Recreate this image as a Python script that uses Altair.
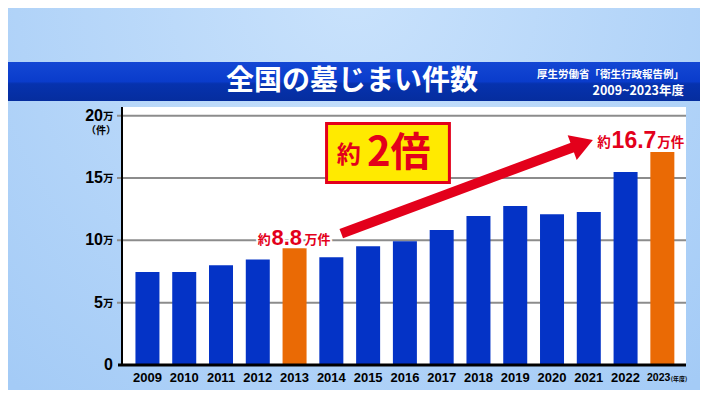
import altair as alt
import pandas as pd

# ---------------- data ----------------
years = list(range(2009, 2024))
values_man = [7.46, 7.46, 8.01, 8.47, 9.36, 8.64, 9.52, 9.92, 10.83, 11.95, 12.75, 12.10, 12.28, 15.49, 17.09]
highlight_years = [2013, 2023]
y_tick_values = [5, 10, 15, 20]
y_tick_labels = ["5", "10", "15", "20"]
year_labels = [str(y) for y in years[:-1]]

title_text = "全国の墓じまい件数"
source_lines = ["厚生労働省「衛生行政報告例」", "2009~2023年度"]

# annotation anchors (data units: year, 万件)
label_2013 = {"yak_x": 2012.35, "num_x": 2012.37, "unit_x": 2013.27, "y": 10.22, "num": "8.8"}
label_2023 = {"yak_x": 2021.6, "num_x": 2021.62, "unit_x": 2022.86, "y": 18.0, "num": "16.7"}
arrow_seg = {"x": 2014.27, "y": 10.54, "x2": 2020.83, "y2": 17.75}
box = {"x": 2013.87, "x2": 2017.21, "y": 19.37, "y2": 14.64}
box_text = {"yak_x": 2014.47, "big_x": 2014.97, "y": 16.9}

# ---------------- style ----------------
W, H = 564, 258
BLUE = "#0433c6"
ORANGE = "#ea6a05"
RED = "#e3001b"
YELLOW = "#ffea00"
GRID = "#8c8c8c"
JP = "Noto Sans CJK JP"
NUM = "Liberation Sans, Arial, sans-serif"

XS = alt.Scale(domain=[2008.444, 2023.507], nice=False, zero=False)
YS = alt.Scale(domain=[0, 20.7], nice=False, zero=False)


def X(f):
    return alt.X(f, type="quantitative", scale=XS, axis=None)


def Y(f):
    return alt.Y(f, type="quantitative", scale=YS, axis=None)


one = pd.DataFrame({"k": [0]})

bg = alt.Chart(one).mark_rect(
    color={"gradient": "radial", "x1": 0.5, "y1": 0.2, "r1": 0, "x2": 0.5, "y2": 0.2, "r2": 0.75,
           "stops": [{"offset": 0, "color": "#c9e2fc"}, {"offset": 1, "color": "#a4cbf6"}]}
).encode(x=alt.value(-114), x2=alt.value(578), y=alt.value(-99), y2=alt.value(283))

panel = alt.Chart(one).mark_rect(color="white").encode(
    x=alt.value(0), x2=alt.value(W), y=alt.value(0), y2=alt.value(H))

band = alt.Chart(one).mark_rect(
    color={"gradient": "linear", "x1": 0, "y1": 0, "x2": 0, "y2": 1,
           "stops": [{"offset": 0, "color": "#1447d4"}, {"offset": 0.5, "color": "#0a3ccb"},
                     {"offset": 0.56, "color": "#0632ae"}, {"offset": 1, "color": "#052d9e"}]}
).encode(x=alt.value(-114), x2=alt.value(578), y=alt.value(-45), y2=alt.value(-6))

title = alt.Chart(one).mark_text(
    text=title_text, font=JP, fontSize=28, fontWeight="bold", color="white", align="left", baseline="middle"
).encode(x=alt.value(104), y=alt.value(-25))

src1 = alt.Chart(one).mark_text(
    text=source_lines[0], font=JP, fontSize=10.5, fontWeight="bold", color="white", align="right", baseline="middle"
).encode(x=alt.value(562), y=alt.value(-32))
src2 = alt.Chart(one).mark_text(
    text=source_lines[1], font=JP, fontSize=12.5, fontWeight="bold", color="white", align="right", baseline="middle"
).encode(x=alt.value(562), y=alt.value(-16))

grid = alt.Chart(pd.DataFrame({"g": y_tick_values})).mark_rule(color=GRID, strokeWidth=2).encode(
    y=Y("g"), x=alt.value(-5), x2=alt.value(W))

bars_df = pd.DataFrame({"year": years, "value": values_man})
bars = alt.Chart(bars_df).mark_bar(size=24, orient="vertical").encode(
    x=X("year"),
    y=alt.Y("value:Q", scale=YS, axis=None, stack=None),
    color=alt.condition(alt.FieldOneOfPredicate(field="year", oneOf=highlight_years),
                        alt.value(ORANGE), alt.value(BLUE)),
)

left_axis = alt.Chart(one).mark_rule(color="black", strokeWidth=2).encode(
    x=alt.value(0), y=alt.value(0), y2=alt.value(H))
bottom_axis = alt.Chart(one).mark_rule(color="black", strokeWidth=3).encode(
    x=alt.value(-4), x2=alt.value(W), y=alt.value(H))

ylab_df = pd.DataFrame({"v": y_tick_values, "t": y_tick_labels})
ylab_num = alt.Chart(ylab_df).mark_text(font=NUM, fontSize=16, fontWeight="bold", color="black",
                                        align="right", baseline="middle").encode(
    x=alt.value(-19), y=Y("v"), text="t:N")
ylab_man = alt.Chart(ylab_df).mark_text(text="万", font=JP, fontSize=10.5, fontWeight="bold", color="black",
                                        align="left", baseline="middle", dy=1).encode(
    x=alt.value(-19), y=Y("v"))
ylab_zero = alt.Chart(pd.DataFrame({"v": [0]})).mark_text(text="0", font=NUM, fontSize=16, fontWeight="bold",
                                                         color="black", align="right", baseline="middle").encode(
    x=alt.value(-9), y=Y("v"))
ylab_unit = alt.Chart(one).mark_text(text="（件）", font=JP, fontSize=10, fontWeight="bold", color="black",
                                     align="center", baseline="middle").encode(x=alt.value(-21), y=alt.value(24))

xlab_df = pd.DataFrame({"year": years[:-1], "t": year_labels})
xlab = alt.Chart(xlab_df).mark_text(font=NUM, fontSize=13, fontWeight="bold", color="black",
                                    align="center", baseline="middle").encode(
    x=X("year"), y=alt.value(H + 13), text="t:N")
last_df = pd.DataFrame({"year": [years[-1]]})
xlab_last = alt.Chart(last_df).mark_text(text=str(years[-1]), font=NUM, fontSize=10.5, fontWeight="bold",
                                         color="black", align="right", baseline="middle", dx=8).encode(
    x=X("year"), y=alt.value(H + 13))
xlab_last2 = alt.Chart(last_df).mark_text(text="(年度)", font=JP, fontSize=6, fontWeight="bold",
                                          color="black", align="left", baseline="middle", dx=8.5, dy=1).encode(
    x=X("year"), y=alt.value(H + 13))

arrow_df = pd.DataFrame([arrow_seg])
arrow_shaft = alt.Chart(arrow_df).mark_rule(color=RED, strokeWidth=10, strokeCap="butt").encode(
    x=X("x"), y=Y("y"), x2="x2:Q", y2="y2:Q")
arrow_head = alt.Chart(arrow_df).mark_point(shape="M-1,-1.2L1,0L-1,1.2Z", filled=True, size=484, angle=340,
                                            color=RED, opacity=1).encode(x=X("x2"), y=Y("y2"))

box_df = pd.DataFrame([box])
box_shadow = alt.Chart(box_df).mark_rect(color="#7a4a20", opacity=0.45, xOffset=3, yOffset=3).encode(
    x=X("x"), x2="x2:Q", y=Y("y"), y2="y2:Q")
box_rect = alt.Chart(box_df).mark_rect(color=YELLOW, stroke=RED, strokeWidth=3).encode(
    x=X("x"), x2="x2:Q", y=Y("y"), y2="y2:Q")
bt_df = pd.DataFrame([box_text])
box_yak = alt.Chart(bt_df).mark_text(text="約", font=JP, fontSize=24, fontWeight="bold", color=RED,
                                     align="center", baseline="middle", dy=2).encode(x=X("yak_x"), y=Y("y"))
box_big = alt.Chart(bt_df).mark_text(text="2倍", font=JP, fontSize=40, fontWeight="bold", color=RED,
                                     align="left", baseline="middle").encode(x=X("big_x"), y=Y("y"))


def value_label(d, num_size, small):
    df = pd.DataFrame([d])
    layers = []
    for halo in (True, False):
        extra = {"stroke": "white", "strokeWidth": 4, "strokeJoin": "round"} if halo else {}
        layers.append(alt.Chart(df).mark_text(text="約", font=JP, fontSize=small, fontWeight="bold", color=RED,
                                              align="right", baseline="middle", dy=2, **extra).encode(
            x=X("yak_x"), y=Y("y")))
        layers.append(alt.Chart(df).mark_text(text=d["num"], font=NUM, fontSize=num_size, fontWeight="bold",
                                              color=RED, align="left", baseline="middle", **extra).encode(
            x=X("num_x"), y=Y("y")))
        layers.append(alt.Chart(df).mark_text(text="万件", font=JP, fontSize=small, fontWeight="bold", color=RED,
                                              align="left", baseline="middle", dy=2, **extra).encode(
            x=X("unit_x"), y=Y("y")))
    return layers


chart = alt.layer(
    bg, panel, band, title, src1, src2, grid, bars, left_axis, bottom_axis,
    ylab_num, ylab_man, ylab_zero, ylab_unit, xlab, xlab_last, xlab_last2,
    arrow_shaft, arrow_head, box_shadow, box_rect, box_yak, box_big,
    *value_label(label_2013, 22, 13), *value_label(label_2023, 23, 13.5),
).properties(
    width=W, height=H,
    padding={"left": 114, "top": 99, "right": 14, "bottom": 25},
    autosize=alt.AutoSizeParams(type="none"),
    background="#acd0f8",
).configure_view(stroke=None)

chart.save("out.html", embed_options={"renderer": "svg", "actions": False})
